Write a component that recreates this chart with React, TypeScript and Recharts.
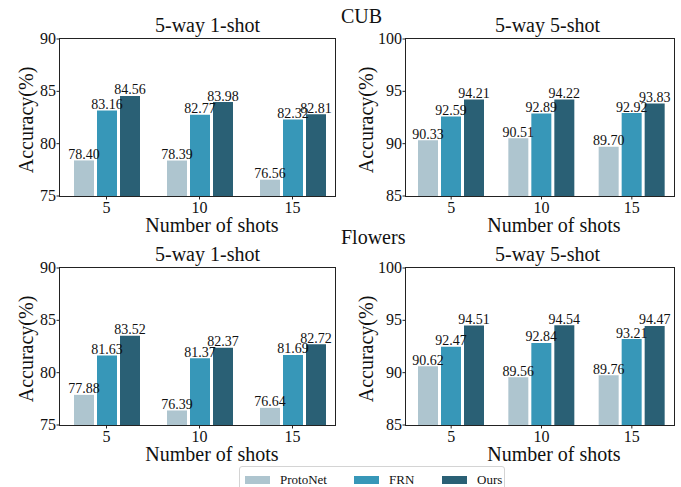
import { Bar, BarChart, LabelList, XAxis, YAxis } from 'recharts'

const shots = ['5', '10', '15']

// CUB
const cub1Proto = [78.4, 78.39, 76.56]
const cub1Frn = [83.16, 82.77, 82.32]
const cub1Ours = [84.56, 83.98, 82.81]
const cub5Proto = [90.33, 90.51, 89.7]
const cub5Frn = [92.59, 92.89, 92.92]
const cub5Ours = [94.21, 94.22, 93.83]

// Flowers
const fl1Proto = [77.88, 76.39, 76.64]
const fl1Frn = [81.63, 81.37, 81.69]
const fl1Ours = [83.52, 82.37, 82.72]
const fl5Proto = [90.62, 89.56, 89.76]
const fl5Frn = [92.47, 92.84, 93.21]
const fl5Ours = [94.51, 94.54, 94.47]

const oneShotTicks = [75, 80, 85, 90]
const fiveShotTicks = [85, 90, 95, 100]

const seriesNames = ['ProtoNet', 'FRN', 'Ours']
const colors = ['#aec5cf', '#3797b8', '#2a6075']

const FONT = 'Liberation Serif'
const FRAME = '#222'
const PLOT_H = 157

const rows = (p: number[], f: number[], o: number[]) =>
  shots.map((s, i) => ({ shot: s, proto: p[i], frn: f[i], ours: o[i] }))

// serif tick text with explicit font attributes
const XTick = (props: any) => {
  const { x, y, payload } = props
  return (
    <g>
      <line x1={x} x2={x} y1={y} y2={y + 3.5} stroke={FRAME} strokeWidth={1} />
      <text x={x} y={y + 17} textAnchor="middle" fontFamily={FONT} fontSize={16} fill="#111">
        {payload.value}
      </text>
    </g>
  )
}

const YTick = (props: any) => {
  const { x, y, payload } = props
  return (
    <g>
      <line x1={x - 3.5} x2={x} y1={y} y2={y} stroke={FRAME} strokeWidth={1} />
      <text x={x - 4} y={y + 5} textAnchor="end" fontFamily={FONT} fontSize={16} fill="#111">
        {payload.value}
      </text>
    </g>
  )
}

const BarValue = (props: any) => {
  const { x, y, width, value } = props
  return (
    <text x={x + width / 2} y={y - 1.5} textAnchor="middle" fontFamily={FONT} fontSize={14} fill="#111">
      {Number(value).toFixed(2)}
    </text>
  )
}

function Panel({
  left,
  top,
  plotW,
  padRight,
  ticks,
  data,
}: {
  left: number
  top: number
  plotW: number
  padRight: number
  ticks: number[]
  data: ReturnType<typeof rows>
}) {
  const mTop = 10
  const yW = 60
  return (
    <div style={{ position: 'absolute', left: left - yW, top: top - mTop }}>
      <BarChart
        width={yW + plotW + 10}
        height={mTop + PLOT_H + 30}
        data={data}
        margin={{ top: mTop, right: 10, bottom: 0, left: 0 }}
        barGap={3}
        barSize={20}
      >
        <XAxis
          dataKey="shot"
          height={30}
          padding={{ left: 0, right: padRight }}
          axisLine={false}
          tickLine={false}
          tickSize={0}
          tickMargin={0}
          tick={<XTick />}
        />
        <YAxis
          domain={[ticks[0], ticks[ticks.length - 1]]}
          ticks={ticks}
          allowDataOverflow
          width={yW}
          axisLine={false}
          tickLine={false}
          tickSize={0}
          tickMargin={0}
          tick={<YTick />}
        />
        {(['proto', 'frn', 'ours'] as const).map((k, i) => (
          <Bar key={k} dataKey={k} fill={colors[i]} isAnimationActive={false}>
            <LabelList dataKey={k} content={<BarValue />} />
          </Bar>
        ))}
      </BarChart>
      {/* axes frame */}
      <div
        style={{
          position: 'absolute',
          left: yW - 1,
          top: mTop - 1,
          width: plotW + 2,
          height: PLOT_H + 2,
          border: `1px solid ${FRAME}`,
          boxSizing: 'border-box',
          pointerEvents: 'none',
          zIndex: 2,
        }}
      />
    </div>
  )
}

export default function App() {
  const titleStyle = { fontSize: 20, fontFamily: FONT, fill: '#111' }
  return (
    <div style={{ position: 'fixed', left: 0, top: 0, width: 681, height: 487, background: '#fff', overflow: 'hidden' }}>
      <Panel left={60} top={39} plotW={275} padRight={-4} ticks={oneShotTicks} data={rows(cub1Proto, cub1Frn, cub1Ours)} />
      <Panel left={406} top={39} plotW={268} padRight={-3} ticks={fiveShotTicks} data={rows(cub5Proto, cub5Frn, cub5Ours)} />
      <Panel left={60} top={268} plotW={275} padRight={-4} ticks={oneShotTicks} data={rows(fl1Proto, fl1Frn, fl1Ours)} />
      <Panel left={406} top={268} plotW={268} padRight={-3} ticks={fiveShotTicks} data={rows(fl5Proto, fl5Frn, fl5Ours)} />

      {/* titles and axis labels */}
      <svg width={681} height={487} style={{ position: 'absolute', left: 0, top: 0, pointerEvents: 'none' }}>
        <text x={341} y={23} {...titleStyle}>CUB</text>
        <text x={341} y={244} {...titleStyle}>Flowers</text>
        {[0, 229].map((dy) => (
          <g key={dy}>
            <text x={207.5} y={32 + dy} textAnchor="middle" {...titleStyle}>5-way 1-shot</text>
            <text x={547.5} y={32 + dy} textAnchor="middle" {...titleStyle}>5-way 5-shot</text>
            <text x={212} y={232 + dy} textAnchor="middle" {...titleStyle}>Number of shots</text>
            <text x={554} y={232 + dy} textAnchor="middle" {...titleStyle}>Number of shots</text>
            <text transform={`translate(32.5 ${120 + dy}) rotate(-90)`} textAnchor="middle" {...titleStyle}>Accuracy(%)</text>
            <text transform={`translate(372.5 ${120 + dy}) rotate(-90)`} textAnchor="middle" {...titleStyle}>Accuracy(%)</text>
          </g>
        ))}
      </svg>

      {/* shared legend */}
      <div
        style={{
          position: 'absolute',
          left: 239,
          top: 466,
          width: 266,
          height: 30,
          border: '1px solid #d4d4d4',
          borderRadius: 3,
          boxSizing: 'border-box',
          fontFamily: FONT,
          fontSize: 13,
          color: '#111',
        }}
      >
        {seriesNames.map((n, i) => (
          <div key={n} style={{ position: 'absolute', left: [5, 114, 202][i], top: 5, display: 'flex', alignItems: 'center' }}>
            <span style={{ display: 'inline-block', width: 25, height: 8, background: colors[i], marginRight: 10 }} />
            <span>{n}</span>
          </div>
        ))}
      </div>
    </div>
  )
}
